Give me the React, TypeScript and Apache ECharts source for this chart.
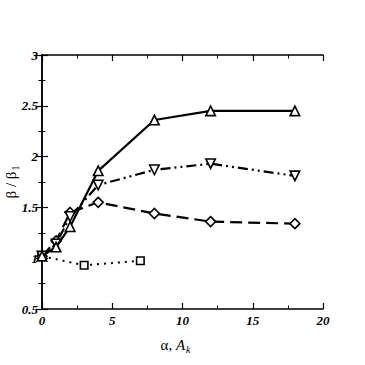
import React, { useEffect, useRef } from "react";
import * as echarts from "echarts";

const upTriangle: [number, number][] = [[0, 1.02], [1, 1.11], [2, 1.31], [4, 1.86], [8, 2.36], [12, 2.45], [18, 2.45]];
const downTriangle: [number, number][] = [[0, 1.02], [1, 1.14], [2, 1.41], [4, 1.72], [8, 1.87], [12, 1.93], [18, 1.81]];
const diamond: [number, number][] = [[0, 1.02], [1, 1.17], [2, 1.45], [4, 1.55], [8, 1.44], [12, 1.36], [18, 1.34]];
const square: [number, number][] = [[0, 1.02], [3, 0.93], [7, 0.975]];

const xMin = 0, xMax = 20, xInterval = 5;
const yMin = 0.5, yMax = 3, yInterval = 0.5;

const FONT = "'Liberation Serif', 'DejaVu Serif', serif";

export default function App() {
  const ref = useRef<HTMLDivElement>(null);
  useEffect(() => {
    if (!ref.current) return;
    const chart = echarts.init(ref.current, null, { renderer: "svg" });
    const axisLine = { show: true, lineStyle: { color: "#000", width: 1.5 } };
    const tick = { show: true, inside: true, length: 6, lineStyle: { color: "#000", width: 1.2 } };
    const minor = { show: true, splitNumber: 2, length: 3.5, lineStyle: { color: "#000", width: 1 } };
    const labelStyle = { color: "#000", fontFamily: FONT, fontStyle: "italic", fontWeight: "bold", fontSize: 13 };
    const mk = (data: [number, number][], symbol: string, rotate: number, type: any, width: number, z: number) => ({
      type: "line",
      data,
      symbol,
      symbolSize: symbol === "rect" ? 7.5 : symbol === "diamond" ? 10 : 9.5,
      symbolRotate: rotate,
      showAllSymbol: true,
      z,
      lineStyle: { color: "#000", width, type },
      itemStyle: { color: "#fff", borderColor: "#000", borderWidth: 1.6 },
    });
    chart.setOption({
      animation: false,
      backgroundColor: "#fff",
      grid: { left: 42, right: 42, top: 55, bottom: 56, containLabel: false, outerBoundsMode: "none" },
      xAxis: [
        {
          type: "value", min: xMin, max: xMax, interval: xInterval, position: "bottom",
          axisLine, axisTick: tick, minorTick: minor, splitLine: { show: false },
          axisLabel: { ...labelStyle, margin: 5 },
          name: "α, {it|A}{sub|k}", nameLocation: "middle", nameGap: 27, nameMoveOverlap: false,
          nameTextStyle: {
            color: "#000", fontFamily: FONT, fontSize: 15, padding: [0, 14, 0, 0],
            rich: {
              it: { fontFamily: FONT, fontSize: 15, fontStyle: "italic", color: "#000" },
              sub: { fontFamily: FONT, fontSize: 10, fontStyle: "italic", color: "#000", verticalAlign: "bottom", padding: [8, 0, 0, 1] },
            },
          },
        },
        {
          type: "value", min: xMin, max: xMax, interval: xInterval, position: "top",
          axisLine, axisTick: tick, minorTick: minor, splitLine: { show: false }, axisLabel: { show: false },
        },
      ],
      yAxis: [
        {
          type: "value", min: yMin, max: yMax, interval: yInterval, position: "left",
          axisLine, axisTick: tick, minorTick: minor, splitLine: { show: false },
          axisLabel: { ...labelStyle, margin: 4 },
          name: "β / β{sub|1}", nameLocation: "middle", nameGap: 22, nameMoveOverlap: false,
          nameTextStyle: {
            color: "#000", fontFamily: FONT, fontSize: 15,
            rich: {
              sub: { fontFamily: FONT, fontSize: 10, color: "#000", padding: [8, 0, 0, 1] },
            },
          },
        },
        {
          type: "value", min: yMin, max: yMax, interval: yInterval, position: "right",
          axisLine, axisTick: tick, minorTick: minor, splitLine: { show: false }, axisLabel: { show: false },
        },
      ],
      series: [
        mk(square, "rect", 0, [2, 5], 2, 2),
        mk(diamond, "diamond", 0, [12, 6], 2.2, 3),
        mk(downTriangle, "triangle", 180, [10, 4, 2, 4, 2, 4], 2.2, 4),
        mk(upTriangle, "triangle", 0, "solid", 2.2, 5),
      ],
    });
    return () => chart.dispose();
  }, []);
  return <div ref={ref} style={{ position: "fixed", left: 0, top: 0, width: 365, height: 365 }} />;
}
